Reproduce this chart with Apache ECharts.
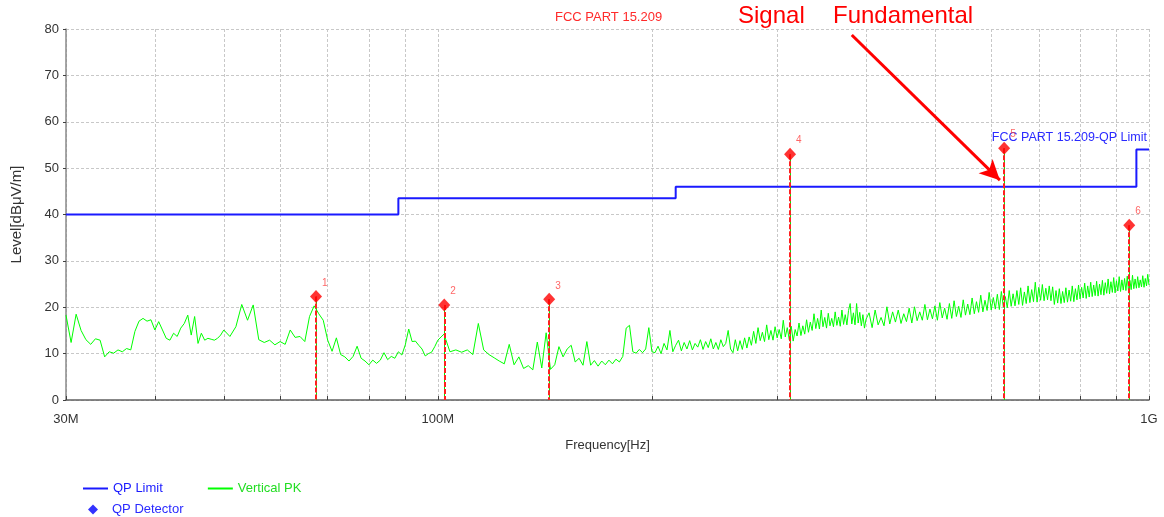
<!DOCTYPE html>
<html><head><meta charset="utf-8">
<script src="https://cdn.jsdelivr.net/npm/echarts@6/dist/echarts.min.js"></script>
<style>html,body{margin:0;padding:0;background:#fff}#c{width:1164px;height:517px}</style>
</head><body><div id="c"></div><script>
const FONT = "'Liberation Sans',Arial,sans-serif";

// x-axis (MHz, log scale)
const xTickValues = [30,40,50,60,70,80,90,100,200,300,400,500,600,700,800,900,1000];
const xLabelValues = [30,100,1000];
const xLabelTexts = ['30M','100M','1G'];

// limit line (FCC PART 15.209-QP Limit)
const limitFreq = [30,88,88,216,216,960,960,1000];
const limitLevel = [40,40,43.5,43.5,46,46,54,54];

// QP detector points
const qpFreq = [67.4,102.1,143.4,312.8,625.6,938];
const qpLevel = [22.3,20.5,21.7,53.0,54.3,37.7];
const qpNames = ['1','2','3','4','5','6'];

// Vertical PK trace (MHz)
const pkFreq = [
30,30.5,31,31.5,32,32.5,33,33.5,34,34.5,35,35.5,36,36.5,37,37.5,38,38.5,39,39.5,40,40.5,41,41.5,42,42.5,43,43.5,44,44.5,45,45.5,46,46.5,47,47.5,48,48.5,49,49.5,50,
51,52,53,54,55,56,57,58,59,60,61,62,63,64,65,66,67,68,69,70,71,72,73,74,75,76,77,78,79,80,81,82,83,84,85,86,87,88,89,90,91,92,93,94,95,96,97,98,99,100,
102,104,106,108,110,112,114,116,118,120,122,124,126,128,130,132,134,136,138,140,142,144,146,148,150,152,154,156,158,160,162,164,166,168,170,172,174,176,178,180,182,184,186,188,190,192,194,196,198,200,
202,204,206,208,210,212,214,216,218,220,222,224,226,228,230,232,234,236,238,240,242,244,246,248,250,252,254,256,258,260,
262,264,266,268,270,272,274,276,278,280,282,284,286,288,290,292,294,296,298,300,
302,304,306,308,310,312,314,316,318,320,322,324,326,328,330,332,334,336,338,340,
342,344,346,348,350,352,354,356,358,360,362,364,366,368,370,372,374,376,378,380,382,384,386,388,390,392,394,396,398,400,
404,408,412,416,420,424,428,432,436,440,444,448,452,456,460,464,468,472,476,480,
484,488,492,496,500,504,508,512,516,520,524,528,532,536,540,544,548,552,556,560,
564,568,572,576,580,584,588,592,596,600,604,608,612,616,620,624,628,632,636,640,
644,648,652,656,660,664,668,672,676,680,684,688,692,696,700,704,708,712,716,720,
724,728,732,736,740,744,748,752,756,760,764,768,772,776,780,784,788,792,796,800,
804,808,812,816,820,824,828,832,836,840,844,848,852,856,860,864,868,872,876,880,
884,888,892,896,900,904,908,912,916,920,924,928,932,936,940,944,948,952,956,960,
964,968,972,976,980,984,988,992,996,1000
];
const pkLevel = [
18.3,12.4,18.5,15.0,13.0,12.0,13.2,12.9,9.3,10.4,10.1,10.8,10.4,11.1,10.8,14.8,17.0,17.6,17.0,17.3,15.1,16.9,15.1,13.3,12.9,14.4,13.7,15.5,16.5,18.3,14.0,18.0,12.2,14.4,12.9,13.3,13.1,12.9,13.3,14.0,15.1,
13.7,15.8,20.6,17.2,20.5,13.0,12.4,12.9,11.9,12.6,12.0,15.1,13.5,13.7,12.6,18.0,20.3,18.6,17.2,12.9,10.5,13.4,9.8,9.3,8.4,9.4,11.6,9.0,8.4,7.6,8.6,7.9,8.6,10.2,8.7,9.4,9.0,10.4,9.7,11.9,15.3,12.6,12.7,11.8,11.0,9.5,10.0,10.3,11.5,12.9,
14.2,10.4,10.8,10.3,10.8,9.8,16.5,10.8,9.8,9.1,8.4,7.8,12.0,7.6,9.3,6.8,7.4,6.5,12.5,6.9,14.5,6.6,7.6,11.5,9.3,11.0,11.8,8.2,9.0,7.5,12.6,7.5,8.5,7.3,8.4,7.6,8.6,7.8,8.8,8.2,9.4,15.5,16.1,10.4,10.1,10.9,10.2,11.0,15.6,10.4,
10.2,11.6,10.0,12.2,10.8,15.0,10.4,11.8,12.9,10.6,12.4,11.0,12.8,10.8,12.2,11.4,13.0,10.9,12.6,11.3,13.2,11.0,12.4,10.9,13.0,11.5,12.2,15.0,11.0,10.2,
13.0,10.6,12.8,10.9,13.4,11.2,13.6,11.8,14.8,12.2,15.6,12.8,14.6,12.6,16.2,13.0,15.0,12.9,15.8,13.4,
15.2,13.2,17.2,13.6,15.6,13.0,15.9,12.7,15.2,13.8,16.6,13.9,16.0,14.2,17.3,14.6,16.8,15.0,18.6,15.4,
17.6,15.3,19.4,15.8,17.8,15.5,18.7,16.0,17.6,15.8,19.0,16.1,17.9,15.9,19.4,16.3,18.4,16.2,19.3,20.8,16.4,18.8,16.2,20.8,16.6,18.9,16.0,18.4,15.5,17.4,
18.8,15.6,19.4,16.2,17.8,16.0,20.1,16.4,19.0,16.8,19.4,16.5,18.6,16.9,19.8,16.6,20.1,17.1,19.0,17.2,
20.6,17.3,19.6,17.5,20.3,17.2,21.0,17.7,19.8,17.4,20.8,17.6,21.4,18.0,20.2,17.8,21.6,18.3,20.7,18.4,
22.0,18.6,21.2,18.9,22.6,19.0,21.5,19.3,23.2,19.4,22.1,19.6,22.8,19.5,23.4,20.0,22.3,19.9,23.6,20.2,
22.9,20.3,23.6,20.6,24.2,20.4,23.3,20.8,24.6,21.0,23.8,21.2,25.4,21.1,24.3,21.5,24.9,21.4,24.1,21.6,
24.6,21.4,24.4,20.6,23.6,20.9,24.0,20.8,23.4,21.0,24.2,21.1,23.7,21.3,24.6,21.2,24.0,21.6,24.8,21.8,
24.3,22.0,25.2,21.9,24.6,22.2,25.4,22.3,24.8,22.5,25.6,22.4,25.0,22.7,25.8,22.6,25.3,23.0,26.1,22.9,
25.5,23.2,26.4,23.1,25.7,23.5,26.6,23.4,25.9,23.7,26.2,23.6,26.7,23.4,25.8,23.8,26.9,24.0,26.1,24.1,
26.6,24.2,25.9,24.4,26.8,24.3,26.2,24.6,27.1,24.8
];

// annotation arrow (data coords: MHz, dB)
const arrowFrom = [382, 78.7];
const arrowTo = [617, 47.4];
const limitLabelAt = [1000, 56.7];

const chart = echarts.init(document.getElementById('c'), null, {renderer:'canvas'});
const pkData = pkFreq.map((f,i)=>[f,pkLevel[i]]);
const limitData = limitFreq.map((f,i)=>[f,limitLevel[i]]);
const qpData = qpFreq.map((f,i)=>({value:[f,qpLevel[i]], name:qpNames[i]}));
const dropLines = qpFreq.map((f,i)=>[{coord:[f,qpLevel[i]]},{coord:[f,0]}]);

chart.setOption({
  animation:false,
  backgroundColor:'#fff',
  title:{text:'FCC PART 15.209', left:555, top:11, padding:0,
    textStyle:{color:'#ff2a2a', fontWeight:'normal', fontFamily:FONT, fontSize:13}},
  grid:{left:66, right:15, top:29, bottom:117},
  legend:[
    {left:83, top:482, padding:0, itemWidth:25, itemHeight:2, itemGap:45, icon:'rect', selectedMode:false,
     textStyle:{fontFamily:FONT, fontSize:13},
     data:[{name:'QP Limit', textStyle:{color:'#1a1aff'}},{name:'Vertical PK', textStyle:{color:'#22dd22'}}]},
    {left:88, top:503, padding:0, itemWidth:10, itemHeight:10, icon:'diamond', selectedMode:false,
     textStyle:{fontFamily:FONT, fontSize:13, padding:[0,0,0,9]},
     data:[{name:'QP Detector', itemStyle:{color:'#0000ff'}, textStyle:{color:'#2a2aff'}}]}
  ],
  xAxis:{type:'log', logBase:10, min:30, max:1000,
    name:'Frequency[Hz]', nameLocation:'middle', nameGap:39,
    nameTextStyle:{color:'#333', fontFamily:FONT, fontSize:13},
    axisLine:{show:true, onZero:false, lineStyle:{color:'#606060', width:1.5}},
    axisTick:{show:true, inside:true, length:4, customValues:xTickValues, lineStyle:{color:'#404040', width:1}},
    axisLabel:{customValues:xLabelValues, margin:13, color:'#333', fontFamily:FONT, fontSize:13,
      formatter:function(v){const r=Math.round(v); const k=xLabelValues.indexOf(r); return k>=0?xLabelTexts[k]:'';}},
    splitLine:{show:true, lineStyle:{color:'#c8c8c8', type:[3,2], width:1}},
    minorTick:{show:false}, minorSplitLine:{show:false}},
  yAxis:{type:'value', min:0, max:80, interval:10,
    name:'Level[dBμV/m]', nameLocation:'middle', nameGap:42, nameRotate:90,
    nameTextStyle:{color:'#333', fontFamily:FONT, fontSize:15},
    axisLine:{show:true, lineStyle:{color:'#8a8a8a', width:1.5}},
    axisTick:{show:true, inside:false, length:3, lineStyle:{color:'#404040'}},
    axisLabel:{margin:7, color:'#333', fontFamily:FONT, fontSize:13},
    splitLine:{show:true, lineStyle:{color:'#c8c8c8', type:[3,2], width:1}}},
  graphic:[
    {type:'text', left:738, top:4, style:{text:'Signal', fill:'#ff0000', font:'24px '+FONT}},
    {type:'text', left:833, top:4, style:{text:'Fundamental', fill:'#ff0000', font:'24px '+FONT}}
  ],
  series:[
    {name:'Vertical PK', type:'line', data:pkData, showSymbol:false, symbol:'none',
     lineStyle:{color:'#00ff00', width:1}, itemStyle:{color:'#00ff00'}, z:2, silent:true,
     markLine:{silent:true, symbol:'none', label:{show:false}, lineStyle:{color:'#00ee00', type:'solid', width:1}, data:dropLines}},
    {name:'QP Limit', type:'line', data:limitData, showSymbol:false, symbol:'none',
     lineStyle:{color:'#1a1aff', width:2}, itemStyle:{color:'#1a1aff'}, z:3, silent:true,
     markPoint:{silent:true, symbol:'circle', symbolSize:0,
       data:[{coord:limitLabelAt, label:{show:true, position:'left', distance:2, formatter:'FCC PART 15.209-QP Limit', color:'#2a2aff', fontFamily:FONT, fontSize:12.5}}]}},
    {name:'QP Detector', type:'scatter', data:qpData, symbol:'diamond', symbolSize:[12,13],
     itemStyle:{color:'#ff0000'}, z:5, silent:true,
     label:{show:true, position:[12,-12], formatter:'{b}', color:'#ff4040', fontFamily:FONT, fontSize:10},
     markLine:{silent:true, symbol:'none', label:{show:false}, lineStyle:{color:'#ff2020', type:[5,2], width:2}, data:dropLines}},
    {name:'arrow', type:'line', data:[], z:6, silent:true,
     markLine:{silent:true, symbol:['none','arrow'], symbolSize:[15,20], label:{show:false},
       lineStyle:{color:'#ff0000', type:'solid', width:3}, data:[[{coord:arrowFrom},{coord:arrowTo}]]}}
  ]
});
</script></body></html>
